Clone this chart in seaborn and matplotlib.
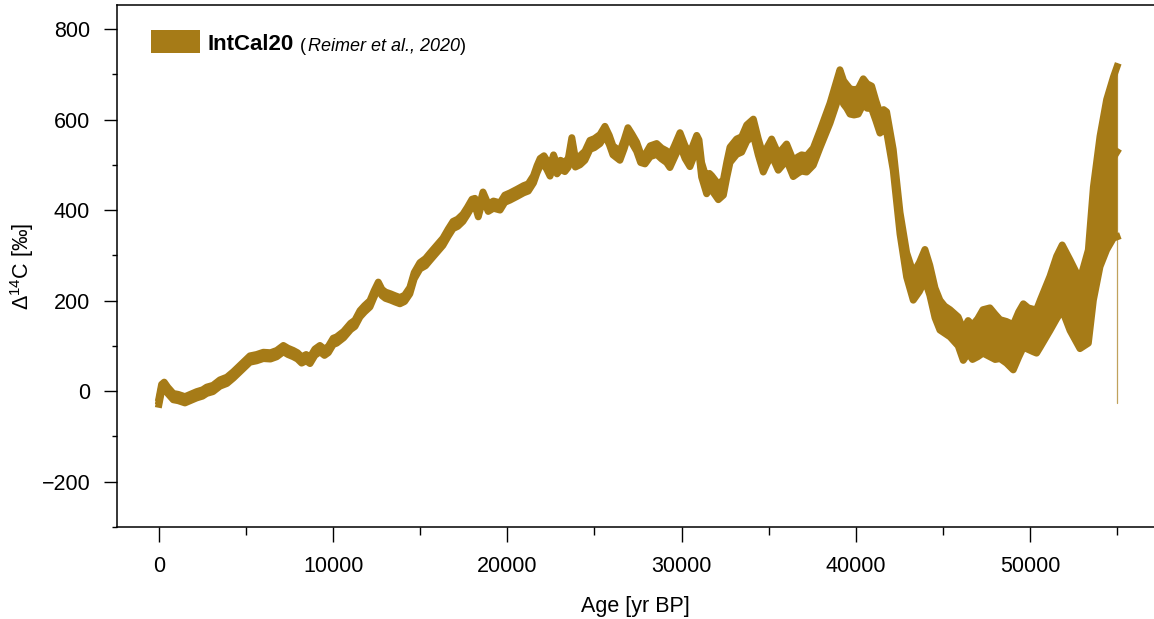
import matplotlib
matplotlib.use("Agg")
import matplotlib.pyplot as plt
from matplotlib.patches import Rectangle
from matplotlib.ticker import MultipleLocator
import pandas as pd
import seaborn as sns

# IntCal20 Delta-14C curve: calendar age [yr BP], mean value [permil], 1-sigma [permil]
age = [
    0, 150, 300, 500, 820, 1100, 1490, 1800, 2160, 2500,
    2740, 3100, 3500, 3900, 4270, 4600, 4840, 5220, 5600, 5990,
    6400, 6760, 7140, 7400, 7710, 7950, 8190, 8450, 8670, 8950,
    9240, 9500, 9720, 10000, 10200, 10600, 11000, 11250, 11540, 11800,
    12110, 12350, 12590, 12800, 13000, 13300, 13550, 13830, 14100, 14400,
    14650, 14980,
    15300, 15560, 15900, 16300, 16600, 16880, 17150, 17450, 17700, 17970,
    18140, 18330, 18600, 18900, 19200, 19580, 19850, 20150, 20550, 20930,
    21200, 21500, 21700, 21880, 22100, 22260, 22450, 22650, 22850, 23050,
    23300, 23500, 23700, 23900, 24170, 24450, 24740, 25000, 25320, 25600,
    25850, 26060, 26460, 26700, 26920, 27150, 27420, 27650, 27900,
    28200, 28570, 28850, 29140, 29330, 29600, 29910, 30200, 30480, 30870,
    31000, 31150, 31440, 31600, 31730, 32110, 32400, 32600, 32780, 33160,
    33450, 33740, 34120, 34400, 34690, 34900, 35170, 35550, 36030, 36410,
    36700, 36890, 37180, 37560, 37950, 38520, 38800, 39090, 39300, 39480,
    39670, 39900, 40140, 40430, 40650, 40910,
    41150, 41390, 41600, 41770, 42150, 42540, 42920, 43300, 43650, 43970,
    44250, 44550, 44830, 45100, 45410, 45880, 46170, 46450, 46700, 47000,
    47300, 47700, 48000, 48280, 48650, 49040, 49350, 49620, 49900, 50190,
    50380, 50600, 51150, 51530, 51850, 52300, 52870, 53350, 53640, 54020,
    54400, 54790, 55000,
]
d14c = [
    -22, 8, 13, 2, -12, -14, -19, -14, -8, -4,
    2, 6, 18, 24, 36, 48, 57, 71, 74, 79,
    78, 83, 94, 88, 83, 78, 69, 74, 68, 86,
    94, 86, 92, 110, 113, 125, 143, 150, 171, 182,
    193, 215, 234, 218, 212, 208, 204, 200, 205, 222,
    255, 277,
    285, 297, 312, 330, 350, 367, 372, 383, 398, 416,
    418, 393, 432, 405, 412, 408, 425, 430, 438, 446,
    450, 468, 490, 506, 510, 500, 485, 512, 490, 500,
    495, 505, 550, 505, 510, 520, 544, 548, 557, 575,
    555, 532, 520, 545, 572, 558, 540, 515, 512,
    530, 535, 525, 518, 507, 530, 557, 528, 511, 550,
    540, 489, 452, 465, 460, 440, 450, 490, 522, 540,
    545, 570, 583, 540, 502, 520, 539, 506, 528, 492,
    500, 504, 502, 518, 557, 614, 648, 684, 660, 651,
    640, 638, 640, 662, 652, 649,
    620, 592, 600, 595, 511, 371, 279, 231, 252, 279,
    245, 195, 168, 158, 150, 132, 102, 120, 108, 118,
    132, 130, 120, 115, 108, 97, 125, 145, 138, 134,
    132, 150, 194, 229, 251, 212, 170, 209, 326, 419,
    478, 516, 529,
]
sigma = [
    7, 7, 7, 7, 7, 7, 7, 7, 7, 7,
    7, 7, 7, 7, 7, 7, 7, 7, 7, 7,
    7, 7, 7, 7, 7, 7, 7, 7, 7, 7,
    7, 7, 7, 7, 7, 7, 7, 7, 7, 7,
    7, 7, 7, 7, 7, 7, 7, 7, 7, 7,
    7, 7,
    8, 8, 8, 8, 8, 8, 8, 8, 8, 8,
    8, 8, 8, 8, 8, 8, 8, 8, 8, 8,
    8, 8, 8, 8, 10, 10, 10, 10, 10, 10,
    10, 10, 10, 10, 10, 10, 10, 10, 10, 10,
    10, 10, 10, 10, 10, 10, 10, 10, 10,
    12, 12, 12, 13, 13, 13, 14, 14, 15, 15,
    15, 16, 16, 16, 16, 17, 17, 17, 17, 17,
    17, 18, 18, 18, 18, 18, 18, 18, 18, 18,
    18, 18, 18, 19, 19, 22, 24, 26, 26, 26,
    28, 28, 28, 28, 27, 25,
    22, 22, 22, 22, 23, 24, 27, 30, 32, 34,
    33, 33, 33, 30, 30, 32, 34, 36, 38, 42,
    48, 54, 50, 43, 46, 50, 50, 48, 46, 47,
    48, 52, 60, 69, 72, 78, 76, 103, 125, 144,
    166, 178, 188,
]
assert len(age) == len(d14c) == len(sigma)

# thin whisker drawn at the oldest end of the curve
end_whisker = (-27, 725)

x_ticks = [0, 10000, 20000, 30000, 40000, 50000]
y_ticks = [-200, 0, 200, 400, 600, 800]
x_label = "Age [yr BP]"
y_label = "Δ$^{14}$C [‰]"
legend_name = "IntCal20"
legend_ref = "Reimer et al., 2020"

curve_color = "#a67b17"
axis_fs = 15.5

sns.set_theme(style="ticks")
plt.rcParams.update({
    "font.family": ["Liberation Sans", "DejaVu Sans"],
    "mathtext.fontset": "custom",
    "mathtext.rm": "Liberation Sans",
    "mathtext.it": "Liberation Sans:italic",
    "mathtext.bf": "Liberation Sans:bold",
    "axes.edgecolor": "black",
    "xtick.color": "black",
    "ytick.color": "black",
    "text.color": "black",
    "axes.labelcolor": "black",
})

df = pd.DataFrame({"age": age, "d14c": d14c, "sigma": sigma})
df["upper"] = df["d14c"] + df["sigma"]
df["lower"] = df["d14c"] - df["sigma"]

W, H = 1154, 619
fig = plt.figure(figsize=(W / 100, H / 100), dpi=100)
ax = fig.add_axes([117 / W, (H - 527) / H, 1 - 117 / W, 522 / H])

ax.fill_between(df["age"], df["lower"], df["upper"], color=curve_color, lw=0)
for col in ["upper", "lower", "d14c"]:
    sns.lineplot(data=df, x="age", y=col, ax=ax, color=curve_color, lw=5,
                 sort=False, estimator=None,
                 solid_joinstyle="round", solid_capstyle="projecting")
ax.plot([age[-1], age[-1]], end_whisker, color=curve_color, lw=0.9, alpha=0.7)

ax.set_xlim(-2410, 57120)
ax.set_ylim(-300, 853)
ax.set_xticks(x_ticks)
ax.set_yticks(y_ticks)
ax.set_yticklabels([f"{v}".replace("-", "\u2212") for v in y_ticks])
ax.xaxis.set_minor_locator(MultipleLocator(5000))
ax.yaxis.set_minor_locator(MultipleLocator(100))
ax.tick_params(which="both", width=1.0, direction="out", labelsize=axis_fs)
ax.tick_params(axis="x", which="major", length=10.8, pad=10.2)
ax.tick_params(axis="x", which="minor", length=5.5)
ax.tick_params(axis="y", which="major", length=9.5, pad=9.8)
ax.tick_params(axis="y", which="minor", length=3.6)

for side in ["left", "bottom", "top"]:
    ax.spines[side].set_linewidth(1.1)
    ax.spines[side].set_color("black")
ax.spines["right"].set_visible(False)

ax.set_xlabel(x_label, fontsize=axis_fs, labelpad=13.5)
ax.set_ylabel(y_label, fontsize=axis_fs, labelpad=4)

# legend: swatch plus mixed-style label
ax.add_patch(Rectangle((0.0328, 0.908), 0.0472, 0.0441, transform=ax.transAxes,
                       color=curve_color, lw=0, clip_on=False))
t1 = ax.text(0.0868, 0.9138, legend_name, transform=ax.transAxes,
             fontsize=16, fontweight="bold", ha="left", va="baseline")
t2 = ax.annotate("(", xy=(1, 0), xycoords=t1, xytext=(5, 0),
                 textcoords="offset points", fontsize=13, ha="left", va="bottom")
t3 = ax.annotate(legend_ref, xy=(1, 0), xycoords=t2, xytext=(1, 0),
                 textcoords="offset points", fontsize=13, style="italic",
                 ha="left", va="bottom")
ax.annotate(")", xy=(1, 0), xycoords=t3, xytext=(0.5, 0),
            textcoords="offset points", fontsize=13, ha="left", va="bottom")

fig.savefig("out.png", dpi=100, facecolor="white")
